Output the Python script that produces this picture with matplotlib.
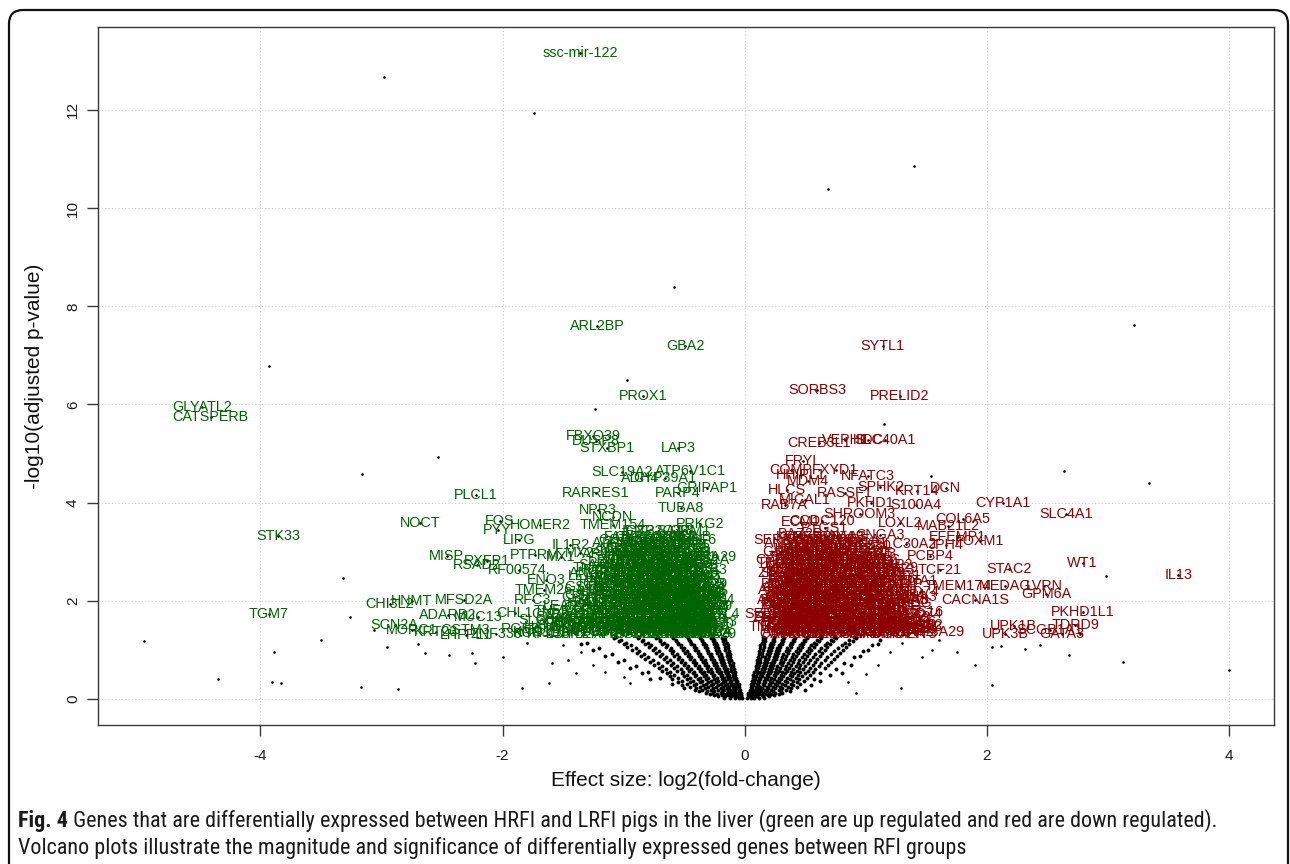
import matplotlib
matplotlib.use("Agg")
import matplotlib.pyplot as plt
from matplotlib import font_manager as fm
from matplotlib.patches import FancyBboxPatch
from matplotlib.transforms import IdentityTransform

W, H = 1290, 864
plt.rcParams["font.family"] = ["Liberation Sans", "DejaVu Sans"]

# ---------------- data ----------------
green_names = ["ssc-mir-122", "ARL2BP", "GBA2", "PROX1", "GLYATL2", "CATSPERB", "FBXO39", "DUSP8",
               "STXBP1", "LAP3", "SLC19A2", "ATP6V1C1", "CYP39A1", "ADH4", "RARRES1", "PARP4",
               "GRIPAP1", "PLCL1", "TUBA8", "NPR3", "NCDN", "HOMER2", "TMEM154", "PRKG2", "NOCT",
               "FOS", "PYY", "STK33", "LIPG", "IL1R2", "MX2", "PTPRM", "MX1", "MISP", "RXFP1",
               "RSAD2", "RF00574.", "ENO3", "MFSD2A", "CHI3L2", "HNMT", "TGM7", "SCN2A", "MORC1",
               "ADARB2", "MUC13", "KRT23", "GSTM3", "LHFPL1", "CHL1", "SLC6A6", "KCNJ16",
               "TMEM26", "RFC3"]
green_fc = [-1.36, -1.22, -0.49, -0.84, -4.48, -4.41, -1.25, -1.23,
            -1.14, -0.55, -1.01, -0.45, -0.66, -0.86, -1.23, -0.55,
            -0.31, -2.22, -0.53, -1.21, -1.09, -1.69, -1.09, -0.37, -2.68,
            -2.02, -2.04, -3.85, -1.86, -1.44, -1.36, -1.73, -1.52, -2.46, -2.13,
            -2.21, -1.86, -1.64, -2.32, -2.93, -2.75, -3.93, -2.89, -2.75,
            -2.45, -2.20, -2.55, -2.31, -2.30, -1.90, -1.65, -1.69,
            -1.66, -1.75]
green_p = [13.16, 7.60, 7.19, 6.17, 5.95, 5.75, 5.36, 5.26,
           5.11, 5.11, 4.63, 4.65, 4.50, 4.50, 4.20, 4.20,
           4.30, 4.16, 3.89, 3.85, 3.71, 3.55, 3.55, 3.57, 3.59,
           3.63, 3.44, 3.32, 3.24, 3.14, 2.97, 2.93, 2.89, 2.91, 2.81,
           2.73, 2.63, 2.42, 2.02, 1.94, 2.00, 1.73, 1.51, 1.41,
           1.71, 1.67, 1.37, 1.41, 1.31, 1.75, 1.61, 1.34,
           2.22, 2.02]

red_names = ["SYTL1", "SORBS3", "PRELID2", "VEPH1", "HDC", "SLC40A1", "CREB3L1", "FRYL", "COMP",
             "HHIPL1", "FXYD1", "NFATC3", "MDM4", "SPHK2", "KRT14", "DCN", "HLCS", "RASSF1",
             "MICAL1", "PKHD1", "S100A4", "CYP1A1", "SLC4A1", "RAB7A", "SHROOM3", "ECM1",
             "CCDC120", "LOXL2", "COL6A5", "MAB21L2", "PTGS1", "BAZ2B", "CNGA3", "EFEMP1",
             "FOXM1", "SLC30A2", "JPH4", "PCBP4", "TCF21", "STAC2", "WT1", "IL13", "MEDAG",
             "LVRN", "GPM6A", "TMEM174", "CACNA1S", "PKHD1L1", "TDRD9", "UPK1B", "UPK3B",
             "SCGB1A1", "GATA3", "ADAMTS16", "EPHB2"]
red_fc = [1.14, 0.60, 1.28, 0.83, 1.02, 1.16, 0.61, 0.48, 0.38,
          0.46, 0.75, 1.02, 0.52, 1.12, 1.42, 1.66, 0.35, 0.83,
          0.50, 1.04, 1.41, 2.13, 2.65, 0.33, 0.95, 0.46,
          0.64, 1.28, 1.80, 1.68, 0.66, 0.46, 1.12, 1.76,
          1.94, 1.33, 1.66, 1.53, 1.61, 2.18, 2.79, 3.58, 2.15,
          2.47, 2.49, 1.76, 1.90, 2.79, 2.73, 2.22, 2.15,
          2.52, 2.62, 1.33, 1.45]
red_p = [7.19, 6.30, 6.17, 5.28, 5.28, 5.28, 5.22, 4.85, 4.67,
         4.56, 4.67, 4.54, 4.44, 4.32, 4.24, 4.30, 4.26, 4.20,
         4.05, 3.99, 3.95, 3.99, 3.77, 3.95, 3.77, 3.61,
         3.63, 3.59, 3.67, 3.52, 3.48, 3.36, 3.34, 3.30,
         3.22, 3.16, 3.14, 2.91, 2.63, 2.65, 2.77, 2.53, 2.30,
         2.30, 2.14, 2.30, 2.02, 1.77, 1.51, 1.49, 1.32,
         1.41, 1.32, 1.77, 1.51]

# densely packed significant genes (labels unreadable in the original)
blob_names = ["ZNF330", "CD74", "SAMD9", "OAS1", "IFIT3", "RPL13", "GSTA1", "SERPINA3", "APOA4",
              "CYP2C33", "HPX", "FGB", "ITIH4", "HAMP", "SAA3", "LEAP2", "HPD", "FABP1", "MGST1",
              "ORM1", "AHSG", "APOH", "CYP3A29", "UGT2B31", "KNG1", "CFB", "PLG", "SOD3", "MYC",
              "EGR1", "ATF3", "KLF6", "RGS2", "PDK4", "ANGPTL4", "CIDEA", "TNFRSF12A", "JUNB"]

green_blob_p = [1.32, 1.42, 1.52, 1.63, 1.74, 1.85, 1.96, 2.07, 2.18, 2.29,
                2.40, 2.51, 2.62, 2.73, 2.84, 2.95, 3.06, 3.18, 3.30, 3.42,
                1.37, 1.47, 1.57, 1.68, 1.79, 1.90, 2.01, 2.12, 2.23, 2.34,
                2.45, 2.56, 2.67, 2.78, 2.89, 3.00, 3.12, 3.24]
green_blob_fc = [
    [-2.05, -1.62, -1.40, -1.22, -1.08, -0.96, -0.85, -0.75, -0.65, -0.56, -0.48, -0.40, -0.33, -0.28],
    [-1.85, -1.50, -1.28, -1.12, -0.99, -0.88, -0.77, -0.67, -0.58, -0.49, -0.41, -0.34, -0.29],
    [-1.55, -1.32, -1.15, -1.02, -0.90, -0.79, -0.69, -0.60, -0.51, -0.43, -0.36, -0.30],
    [-1.42, -1.20, -1.05, -0.93, -0.82, -0.72, -0.62, -0.53, -0.45, -0.37, -0.30],
    [-1.50, -1.25, -1.10, -0.97, -0.85, -0.74, -0.64, -0.55, -0.46, -0.38, -0.31],
    [-1.35, -1.16, -1.01, -0.88, -0.77, -0.67, -0.57, -0.48, -0.40, -0.32],
    [-1.30, -1.12, -0.98, -0.86, -0.75, -0.65, -0.55, -0.46, -0.38, -0.31],
    [-1.40, -1.18, -1.03, -0.90, -0.79, -0.68, -0.58, -0.49, -0.40, -0.32],
    [-1.25, -1.08, -0.94, -0.82, -0.71, -0.61, -0.51, -0.42, -0.34],
    [-1.30, -1.12, -0.97, -0.85, -0.74, -0.63, -0.53, -0.44, -0.35],
    [-1.20, -1.03, -0.90, -0.78, -0.67, -0.56, -0.46, -0.37],
    [-1.28, -1.08, -0.94, -0.81, -0.70, -0.59, -0.49, -0.39],
    [-1.15, -0.99, -0.86, -0.74, -0.62, -0.51, -0.41],
    [-1.22, -1.04, -0.90, -0.77, -0.65, -0.54, -0.43],
    [-1.10, -0.95, -0.82, -0.69, -0.57, -0.46, -0.36],
    [-1.15, -0.99, -0.85, -0.72, -0.60, -0.48],
    [-1.05, -0.90, -0.76, -0.63, -0.50, -0.40],
    [-1.12, -0.94, -0.79, -0.65, -0.52],
    [-0.98, -0.82, -0.68, -0.55, -0.42],
    [-0.88, -0.72, -0.58, -0.45],
    [-1.75, -1.45, -1.25, -1.14, -1.02, -0.91, -0.80, -0.70, -0.61, -0.52, -0.44, -0.37, -0.30],
    [-1.65, -1.38, -1.20, -1.06, -0.94, -0.83, -0.72, -0.63, -0.54, -0.46, -0.38, -0.31],
    [-1.48, -1.26, -1.10, -0.97, -0.86, -0.76, -0.66, -0.57, -0.48, -0.40, -0.33],
    [-1.58, -1.32, -1.15, -1.00, -0.88, -0.78, -0.68, -0.59, -0.50, -0.42, -0.34, -0.29],
    [-1.40, -1.20, -1.04, -0.92, -0.81, -0.70, -0.60, -0.51, -0.43, -0.35, -0.29],
    [-1.48, -1.25, -1.08, -0.95, -0.83, -0.72, -0.62, -0.52, -0.44, -0.36, -0.29],
    [-1.22, -1.06, -0.93, -0.82, -0.71, -0.61, -0.51, -0.43, -0.35, -0.29],
    [-1.30, -1.12, -0.97, -0.85, -0.74, -0.64, -0.54, -0.45, -0.37, -0.30],
    [-1.18, -1.02, -0.89, -0.77, -0.66, -0.56, -0.47, -0.39, -0.31],
    [-1.22, -1.06, -0.92, -0.80, -0.69, -0.58, -0.48, -0.40, -0.32],
    [-1.12, -0.97, -0.84, -0.72, -0.62, -0.51, -0.42, -0.34],
    [-1.18, -1.02, -0.88, -0.76, -0.65, -0.54, -0.44, -0.35],
    [-1.08, -0.93, -0.80, -0.68, -0.57, -0.46, -0.37],
    [-1.14, -0.97, -0.84, -0.72, -0.60, -0.49, -0.39],
    [-1.04, -0.89, -0.76, -0.64, -0.52, -0.41, -0.33],
    [-1.08, -0.92, -0.79, -0.66, -0.54, -0.44],
    [-0.98, -0.83, -0.70, -0.57, -0.46],
    [-1.02, -0.86, -0.72, -0.59, -0.47, -0.37],
]

red_blob_p = [1.32, 1.42, 1.52, 1.63, 1.74, 1.85, 1.96, 2.07, 2.18, 2.29,
              2.40, 2.51, 2.62, 2.73, 2.84, 2.95, 3.06, 3.18, 3.30,
              1.37, 1.47, 1.57, 1.68, 1.79, 1.90, 2.01, 2.12, 2.23, 2.34,
              2.45, 2.56, 2.67, 2.78, 2.89, 3.00, 3.12, 3.24]
red_blob_fc = [
    [0.28, 0.35, 0.43, 0.52, 0.62, 0.72, 0.83, 0.94, 1.06, 1.18, 1.31, 1.45],
    [0.30, 0.38, 0.47, 0.56, 0.66, 0.77, 0.88, 1.00, 1.12, 1.25, 1.40],
    [0.28, 0.36, 0.45, 0.54, 0.64, 0.74, 0.85, 0.97, 1.09, 1.22, 1.36],
    [0.31, 0.40, 0.49, 0.59, 0.69, 0.80, 0.92, 1.04, 1.17, 1.31],
    [0.29, 0.37, 0.46, 0.56, 0.66, 0.77, 0.89, 1.01, 1.14, 1.28, 1.48],
    [0.32, 0.41, 0.51, 0.61, 0.72, 0.84, 0.96, 1.09, 1.23],
    [0.29, 0.38, 0.48, 0.58, 0.69, 0.81, 0.93, 1.06, 1.20, 1.38],
    [0.33, 0.43, 0.53, 0.64, 0.76, 0.88, 1.01, 1.15, 1.30],
    [0.30, 0.40, 0.50, 0.61, 0.73, 0.85, 0.98, 1.12, 1.27, 1.45],
    [0.34, 0.45, 0.56, 0.68, 0.80, 0.93, 1.07, 1.22],
    [0.31, 0.42, 0.53, 0.65, 0.78, 0.91, 1.05, 1.20, 1.40],
    [0.36, 0.47, 0.59, 0.72, 0.85, 0.99, 1.14, 1.30],
    [0.33, 0.44, 0.56, 0.69, 0.82, 0.96, 1.11, 1.27],
    [0.38, 0.50, 0.63, 0.76, 0.90, 1.05, 1.21],
    [0.35, 0.47, 0.60, 0.73, 0.87, 1.02, 1.18],
    [0.40, 0.53, 0.67, 0.81, 0.96, 1.12],
    [0.37, 0.50, 0.64, 0.78, 0.93],
    [0.43, 0.57, 0.71, 0.86, 1.02],
    [0.40, 0.54, 0.69, 0.85],
    [0.31, 0.39, 0.48, 0.57, 0.67, 0.78, 0.89, 1.00, 1.12, 1.24, 1.38, 1.55],
    [0.29, 0.37, 0.45, 0.55, 0.65, 0.75, 0.86, 0.98, 1.10, 1.23, 1.35, 1.50],
    [0.31, 0.40, 0.49, 0.59, 0.69, 0.80, 0.91, 1.03, 1.15, 1.29, 1.45],
    [0.28, 0.36, 0.45, 0.54, 0.64, 0.75, 0.86, 0.98, 1.11, 1.24, 1.38],
    [0.33, 0.42, 0.51, 0.61, 0.72, 0.83, 0.95, 1.07, 1.20, 1.34],
    [0.30, 0.39, 0.48, 0.58, 0.69, 0.80, 0.92, 1.04, 1.17, 1.30],
    [0.28, 0.37, 0.47, 0.58, 0.69, 0.81, 0.94, 1.08, 1.22, 1.37],
    [0.34, 0.44, 0.55, 0.67, 0.79, 0.92, 1.05, 1.19, 1.34],
    [0.31, 0.41, 0.52, 0.64, 0.76, 0.89, 1.03, 1.17, 1.32],
    [0.29, 0.39, 0.50, 0.62, 0.74, 0.87, 1.00, 1.14, 1.30],
    [0.36, 0.47, 0.59, 0.71, 0.84, 0.98, 1.12, 1.27],
    [0.32, 0.42, 0.53, 0.65, 0.78, 0.92, 1.06, 1.21],
    [0.38, 0.49, 0.61, 0.74, 0.88, 1.02, 1.17],
    [0.33, 0.44, 0.56, 0.69, 0.83, 0.97, 1.12],
    [0.40, 0.52, 0.65, 0.79, 0.93, 1.08],
    [0.34, 0.46, 0.59, 0.73, 0.88, 1.04],
    [0.42, 0.55, 0.69, 0.84, 1.00],
    [0.36, 0.49, 0.63, 0.78, 0.94],
]

# non-significant genes (black cloud), by row of -log10(padj)
cloud_p = [0.03, 0.08, 0.13, 0.19, 0.25, 0.31, 0.37, 0.43, 0.49, 0.55, 0.61,
           0.67, 0.73, 0.79, 0.85, 0.91, 0.97, 1.03, 1.09, 1.15, 1.21, 1.27,
           0.055, 0.105, 0.16, 0.22, 0.28, 0.34, 0.40, 0.46, 0.52, 0.58, 0.64,
           0.70, 0.76, 0.82, 0.88, 0.94, 1.00, 1.06, 1.12, 1.18, 1.24]
cloud_left = [
    [-0.02, -0.05, -0.08, -0.12, -0.17],
    [-0.03, -0.06, -0.10, -0.14, -0.19, -0.25],
    [-0.03, -0.07, -0.11, -0.15, -0.20, -0.26, -0.32],
    [-0.04, -0.08, -0.12, -0.17, -0.22, -0.28, -0.35, -0.41],
    [-0.05, -0.09, -0.13, -0.18, -0.24, -0.30, -0.37, -0.45],
    [-0.05, -0.10, -0.15, -0.20, -0.26, -0.32, -0.40, -0.48, -0.60],
    [-0.06, -0.11, -0.16, -0.22, -0.28, -0.35, -0.43, -0.52],
    [-0.07, -0.12, -0.17, -0.23, -0.30, -0.37, -0.45, -0.55, -0.70],
    [-0.08, -0.13, -0.19, -0.25, -0.32, -0.40, -0.48, -0.58],
    [-0.08, -0.14, -0.20, -0.27, -0.34, -0.42, -0.51, -0.62, -0.80],
    [-0.09, -0.15, -0.21, -0.28, -0.36, -0.44, -0.53, -0.65],
    [-0.10, -0.16, -0.23, -0.30, -0.38, -0.47, -0.56, -0.68, -0.90],
    [-0.10, -0.17, -0.24, -0.32, -0.40, -0.49, -0.59, -0.72],
    [-0.11, -0.18, -0.25, -0.33, -0.42, -0.52, -0.62, -0.76, -1.00],
    [-0.12, -0.19, -0.27, -0.35, -0.44, -0.54, -0.65, -0.80],
    [-0.12, -0.20, -0.28, -0.37, -0.46, -0.56, -0.68, -0.83, -1.10],
    [-0.13, -0.21, -0.30, -0.39, -0.48, -0.59, -0.71, -0.87],
    [-0.14, -0.22, -0.31, -0.40, -0.50, -0.61, -0.74, -0.90, -1.20],
    [-0.14, -0.23, -0.32, -0.42, -0.53, -0.64, -0.77, -0.94],
    [-0.15, -0.24, -0.34, -0.44, -0.55, -0.67, -0.80, -0.98, -1.30],
    [-0.16, -0.25, -0.35, -0.46, -0.57, -0.70, -0.84, -1.02],
    [-0.16, -0.26, -0.36, -0.47, -0.59, -0.72, -0.87, -1.06],
    [-0.035, -0.07, -0.11, -0.16, -0.22],
    [-0.045, -0.085, -0.125, -0.17, -0.23, -0.29],
    [-0.05, -0.095, -0.14, -0.19, -0.25, -0.31, -0.38],
    [-0.06, -0.10, -0.15, -0.20, -0.26, -0.33, -0.40, -0.50],
    [-0.07, -0.115, -0.165, -0.22, -0.28, -0.345, -0.42, -0.52],
    [-0.075, -0.125, -0.18, -0.235, -0.30, -0.37, -0.45, -0.55],
    [-0.085, -0.135, -0.19, -0.25, -0.32, -0.39, -0.48, -0.60, -0.78],
    [-0.095, -0.145, -0.20, -0.265, -0.335, -0.41, -0.50, -0.62],
    [-0.10, -0.155, -0.215, -0.28, -0.35, -0.43, -0.52, -0.64, -0.85],
    [-0.11, -0.165, -0.23, -0.30, -0.37, -0.46, -0.56, -0.68],
    [-0.115, -0.175, -0.24, -0.31, -0.39, -0.48, -0.58, -0.71, -0.95],
    [-0.125, -0.185, -0.255, -0.33, -0.41, -0.50, -0.61, -0.75],
    [-0.13, -0.195, -0.265, -0.345, -0.43, -0.53, -0.64, -0.78, -1.05],
    [-0.14, -0.205, -0.28, -0.36, -0.45, -0.55, -0.67, -0.82],
    [-0.145, -0.215, -0.29, -0.375, -0.47, -0.58, -0.70, -0.86, -1.15],
    [-0.15, -0.225, -0.305, -0.39, -0.49, -0.60, -0.73, -0.89],
    [-0.16, -0.235, -0.315, -0.41, -0.51, -0.62, -0.76, -0.93, -1.25],
    [-0.165, -0.245, -0.33, -0.42, -0.53, -0.65, -0.79, -0.97],
    [-0.17, -0.255, -0.345, -0.44, -0.55, -0.68, -0.82, -1.00, -1.35],
    [-0.18, -0.265, -0.355, -0.455, -0.57, -0.70, -0.85, -1.04],
    [-0.185, -0.275, -0.37, -0.47, -0.59, -0.73, -0.88, -1.08],
]
cloud_right = [
    [0.02, 0.05, 0.08, 0.12, 0.16],
    [0.03, 0.06, 0.10, 0.14, 0.19, 0.24],
    [0.03, 0.07, 0.11, 0.15, 0.20, 0.25, 0.31],
    [0.04, 0.08, 0.12, 0.17, 0.22, 0.28, 0.34, 0.50],
    [0.05, 0.09, 0.13, 0.18, 0.23, 0.29, 0.36, 0.43],
    [0.05, 0.10, 0.15, 0.20, 0.25, 0.31, 0.38, 0.46],
    [0.06, 0.11, 0.16, 0.21, 0.27, 0.33, 0.40, 0.49, 0.62],
    [0.07, 0.12, 0.17, 0.22, 0.28, 0.35, 0.42, 0.51],
    [0.07, 0.13, 0.18, 0.24, 0.30, 0.37, 0.44, 0.54, 0.70],
    [0.08, 0.13, 0.19, 0.25, 0.31, 0.38, 0.46, 0.56],
    [0.09, 0.14, 0.20, 0.26, 0.33, 0.40, 0.48, 0.58, 0.75],
    [0.09, 0.15, 0.21, 0.27, 0.34, 0.42, 0.50, 0.61],
    [0.10, 0.16, 0.22, 0.29, 0.36, 0.44, 0.52, 0.63, 0.82],
    [0.10, 0.17, 0.23, 0.30, 0.37, 0.45, 0.54, 0.66],
    [0.11, 0.17, 0.24, 0.31, 0.39, 0.47, 0.56, 0.68, 0.90],
    [0.12, 0.18, 0.25, 0.32, 0.40, 0.49, 0.58, 0.71],
    [0.12, 0.19, 0.26, 0.34, 0.42, 0.51, 0.61, 0.74, 0.98],
    [0.13, 0.20, 0.27, 0.35, 0.44, 0.53, 0.63, 0.77],
    [0.13, 0.21, 0.28, 0.37, 0.46, 0.55, 0.66, 0.80, 1.05],
    [0.14, 0.22, 0.30, 0.38, 0.47, 0.57, 0.68, 0.83],
    [0.15, 0.23, 0.31, 0.40, 0.49, 0.60, 0.71, 0.86, 1.12],
    [0.15, 0.24, 0.32, 0.41, 0.51, 0.62, 0.74, 0.90],
    [0.035, 0.07, 0.105, 0.15, 0.20],
    [0.045, 0.085, 0.12, 0.165, 0.22, 0.28],
    [0.05, 0.09, 0.135, 0.18, 0.235, 0.30, 0.37],
    [0.06, 0.10, 0.145, 0.195, 0.25, 0.31, 0.38],
    [0.07, 0.11, 0.155, 0.21, 0.265, 0.33, 0.40, 0.55],
    [0.075, 0.12, 0.17, 0.225, 0.28, 0.35, 0.43],
    [0.085, 0.13, 0.18, 0.24, 0.30, 0.37, 0.45, 0.57],
    [0.09, 0.14, 0.19, 0.25, 0.32, 0.39, 0.47],
    [0.10, 0.15, 0.205, 0.265, 0.335, 0.41, 0.50, 0.62, 0.80],
    [0.105, 0.155, 0.215, 0.28, 0.35, 0.43, 0.52],
    [0.11, 0.165, 0.225, 0.29, 0.365, 0.445, 0.54, 0.66],
    [0.12, 0.175, 0.235, 0.305, 0.38, 0.46, 0.56, 0.69, 0.88],
    [0.125, 0.18, 0.245, 0.315, 0.395, 0.48, 0.58, 0.71],
    [0.13, 0.19, 0.255, 0.33, 0.41, 0.50, 0.60, 0.74],
    [0.14, 0.20, 0.265, 0.34, 0.425, 0.515, 0.62, 0.76, 0.95],
    [0.145, 0.205, 0.275, 0.355, 0.44, 0.53, 0.64, 0.79],
    [0.15, 0.215, 0.285, 0.365, 0.455, 0.55, 0.66, 0.81, 1.02],
    [0.155, 0.225, 0.295, 0.38, 0.47, 0.57, 0.68, 0.84],
    [0.16, 0.23, 0.305, 0.39, 0.485, 0.59, 0.70, 0.86, 1.10],
    [0.165, 0.24, 0.315, 0.405, 0.50, 0.61, 0.73, 0.89],
    [0.17, 0.245, 0.325, 0.415, 0.515, 0.63, 0.75, 0.92],
]

# isolated genes without labels
other_fc = [-2.98, -1.74, 1.40, 0.69, -0.58, 3.21, -0.97, -1.24, 1.15, 1.54, -2.53, -3.16, 2.64,
            3.34, -3.93, -3.32, -3.26, -3.50, -4.96, -3.89, -3.06, -4.35, -3.90, -3.83, -3.17,
            -2.86, -2.64, -2.44, -2.23, -2.25, -1.84, -1.62, -1.59, -1.46, -1.39, 1.29, 0.92,
            1.46, 1.90, 2.04, 2.04, 2.44, 2.68, 3.12, 4.00, 2.98, 2.77, 2.31, 2.12, -2.70,
            -2.95, 1.60, 1.75, -1.80, -2.00, -1.50, -1.35, -1.25, -1.15, -1.00, -0.95, 1.20,
            1.30, 1.10, 1.00, 0.85, 1.55]
other_p = [12.67, 11.93, 10.86, 10.39, 8.39, 7.62, 6.50, 5.91, 5.60, 4.54, 4.93, 4.58, 4.64,
           4.40, 6.78, 2.46, 1.67, 1.20, 1.18, 0.96, 1.41, 0.41, 0.35, 0.33, 0.24,
           0.20, 0.94, 0.90, 0.73, 0.94, 0.22, 0.33, 0.73, 0.80, 0.53, 0.22, 0.12,
           0.86, 0.69, 0.29, 1.05, 1.10, 0.90, 0.75, 0.59, 2.51, 1.32, 1.02, 1.08, 1.12,
           1.05, 1.20, 0.95, 1.15, 0.85, 1.10, 0.95, 0.70, 0.55, 0.45, 0.32, 0.95,
           1.15, 0.70, 0.50, 0.35, 1.00]

x_ticks = [-4, -2, 0, 2, 4]
y_ticks = [0, 2, 4, 6, 8, 10, 12]

# ---------------- figure ----------------
LABEL_FONT = "Liberation Sans"
GREEN = "#006400"
RED = "#8B0000"

fig = plt.figure(figsize=(W / 100, H / 100), dpi=100)
fig.patch.set_facecolor("white")
ax = fig.add_axes([98 / W, 1 - 725 / H, (1274 - 98) / W, (725 - 27) / H])
ax.set_xlim(-5.34, 4.37)
ax.set_ylim(-0.53, 13.69)

ax.grid(True, linestyle=(0, (1, 2)), color="#cfcfcf", linewidth=0.8, zorder=0)
ax.set_axisbelow(True)
for s in ax.spines.values():
    s.set_color("#3a3a3a")
    s.set_linewidth(1.0)

ax.set_xticks(x_ticks)
ax.set_xticklabels([str(t) for t in x_ticks], fontsize=11, family=LABEL_FONT)
ax.set_yticks(y_ticks)
ax.set_yticklabels([str(t) for t in y_ticks], rotation=90, va="center", fontsize=11,
                   family=LABEL_FONT)
ax.tick_params(direction="out", length=8, width=1, colors="#3a3a3a", labelcolor="#1a1a1a")
ax.tick_params(axis="x", pad=9)
ax.tick_params(axis="y", pad=5)

# black points
cx, cy = [], []
for p, row in zip(cloud_p, cloud_left):
    cx += row
    cy += [p] * len(row)
for p, row in zip(cloud_p, cloud_right):
    cx += row
    cy += [p] * len(row)
ax.scatter(cx, cy, s=8, c="black", linewidths=0, zorder=2)
ax.scatter(other_fc, other_p, s=3.5, c="black", linewidths=0, zorder=2)
ax.scatter(green_fc + red_fc, green_p + red_p, s=3.5, c="black", linewidths=0, zorder=2)

bgx, bgy = [], []
for p, row in zip(green_blob_p, green_blob_fc):
    bgx += row
    bgy += [p] * len(row)
brx, bry = [], []
for p, row in zip(red_blob_p, red_blob_fc):
    brx += row
    bry += [p] * len(row)
ax.scatter(bgx + brx, bgy + bry, s=3, c="black", linewidths=0, zorder=2)

tkw = dict(ha="center", va="center", fontsize=10.4, family=LABEL_FONT, zorder=3)
# red labels first
for i, (x, y) in enumerate(zip(brx, bry)):
    ax.text(x, y, blob_names[(i * 7 + 3) % len(blob_names)], color=RED, **tkw)
for n, x, y in zip(red_names, red_fc, red_p):
    ax.text(x, y, n, color=RED, **tkw)
# green labels on top
for i, (x, y) in enumerate(zip(bgx, bgy)):
    ax.text(x, y, blob_names[(i * 5) % len(blob_names)], color=GREEN, **tkw)
for n, x, y in zip(green_names, green_fc, green_p):
    ax.text(x, y, n, color=GREEN, **tkw)

# axis titles
fig.text(686 / W, 1 - 780 / H, "Effect size: log2(fold-change)", ha="center", va="center",
         fontsize=15, family=LABEL_FONT, color="#111111")
fig.text(35 / W, 1 - 376 / H, "-log10(adjusted p-value)", ha="center", va="center",
         rotation=90, fontsize=15, family=LABEL_FONT, color="#111111")

# outer frame
frame = FancyBboxPatch((9, -20), 1279, 874, boxstyle="round,pad=0,rounding_size=14",
                       transform=IdentityTransform(), fill=False, lw=1.6, ec="#111111")
fig.add_artist(frame)


# caption
def pick_caption_font():
    for fam in ["Liberation Sans Narrow", "Roboto Condensed", "Open Sans Condensed"]:
        try:
            fm.findfont(fm.FontProperties(family=fam), fallback_to_default=False)
            return dict(family=fam)
        except Exception:
            pass
    return dict(family="DejaVu Sans", stretch="condensed")


cap_kw = pick_caption_font()
cap1_bold = "Fig. 4"
cap1_rest = (" Genes that are differentially expressed between HRFI and LRFI pigs in the liver "
             "(green are up regulated and red are down regulated).")
cap2 = "Volcano plots illustrate the magnitude and significance of differentially expressed genes between RFI groups"

fig.canvas.draw()
renderer = fig.canvas.get_renderer()
size = 13.0
t_b = fig.text(18 / W, 1 - 821 / H, cap1_bold, fontweight="bold", fontsize=size, ha="left",
               va="center", color="#1a1a1a", **cap_kw)
t_r = fig.text(0, 1 - 821 / H, cap1_rest, fontsize=size, ha="left", va="center",
               color="#1a1a1a", **cap_kw)
t_2 = fig.text(18 / W, 1 - 848 / H, cap2, fontsize=size, ha="left", va="center",
               color="#1a1a1a", **cap_kw)
for _ in range(3):
    for t in (t_b, t_r, t_2):
        t.set_fontsize(size)
    bb = t_b.get_window_extent(renderer)
    t_r.set_x(bb.x1 / W)
    bb2 = t_r.get_window_extent(renderer)
    total = bb2.x1 - bb.x0
    size *= 1206.0 / total

fig.savefig("out.png", dpi=100)
